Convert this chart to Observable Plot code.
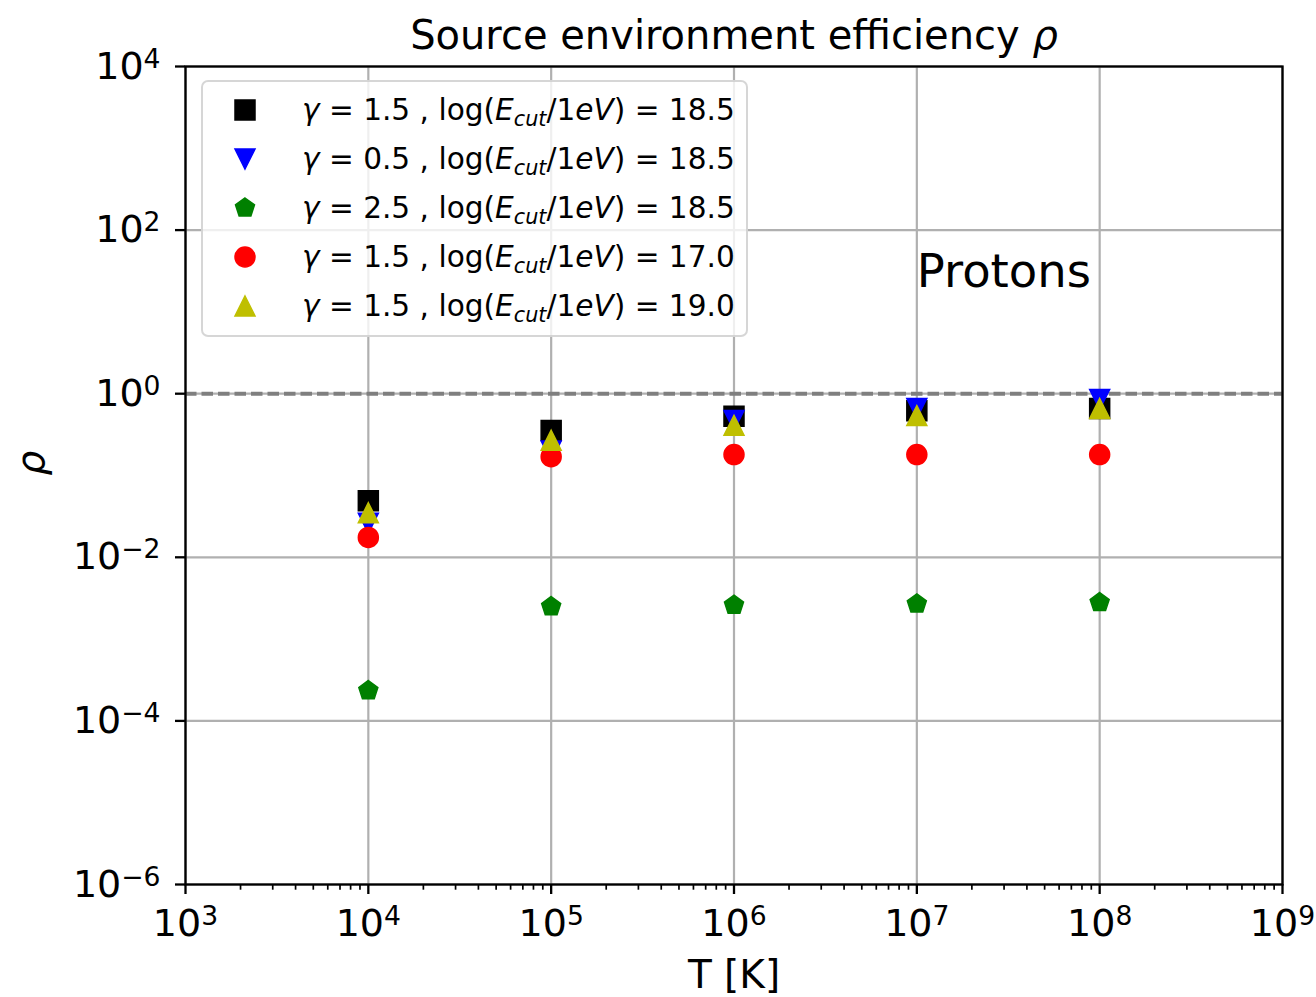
<!DOCTYPE html>
<html>
<head>
<meta charset="utf-8">
<script src="https://cdn.jsdelivr.net/npm/d3@7"></script>
<script src="https://cdn.jsdelivr.net/npm/@observablehq/plot@0.6"></script>
<style>
  body { margin: 0; background: #fff; font-family: "DejaVu Sans", sans-serif; }
  #wrap { position: relative; width: 1316px; height: 997px; }
  #legend {
    position: absolute; left: 201px; top: 80px; width: 547px; height: 257px;
    box-sizing: border-box; border: 2px solid rgba(204,204,204,0.8); border-radius: 7px;
    background: rgba(255,255,255,0.8);
  }
  .lrow { position: absolute; left: 0; height: 35px; line-height: 35px; font-size: 29.6px; color: #000; white-space: nowrap; }
  .lrow svg { position: absolute; left: 27px; top: 2.5px; overflow: visible; }
  .lrow span.txt { position: absolute; left: 99px; top: 0; }
  .lrow sub { font-size: 70%; vertical-align: -0.28em; line-height: 0; }
</style>
</head>
<body>
<div id="wrap"></div>
<script>
// Temperatures of the source environment (K)
const temperatures = [1e4, 1e5, 1e6, 1e7, 1e8];

// Efficiency rho for each spectral index / cutoff combination
const rhoG15E185 = [0.049, 0.355, 0.53, 0.62, 0.66];
const rhoG05E185 = [0.026, 0.2, 0.47, 0.66, 0.85];
const rhoG25E185 = [2.35e-4, 2.5e-3, 2.6e-3, 2.7e-3, 2.8e-3];
const rhoG15E170 = [0.0175, 0.17, 0.18, 0.18, 0.18];
const rhoG15E190 = [0.035, 0.27, 0.41, 0.54, 0.66];

const seriesGamma = ["1.5", "0.5", "2.5", "1.5", "1.5"];
const seriesLogEcut = ["18.5", "18.5", "18.5", "17.0", "19.0"];
const seriesColors = ["#000000", "#0000ff", "#008000", "#ff0000", "#bfbf00"];
const seriesMarkers = ["square", "triangleDown", "pentagon", "circle", "triangleUp"];

const xTickValues = [1e3, 1e4, 1e5, 1e6, 1e7, 1e8, 1e9];
const yTickValues = [1e-6, 1e-4, 1e-2, 1e0, 1e2, 1e4];
const referenceRho = [1];
const annotation = {T: 1e7, rho: 20, text: "Protons"};
const titleText = "Source environment efficiency ρ";
const xLabel = "T [K]";
const yLabel = "ρ";

const seriesValues = [rhoG15E185, rhoG05E185, rhoG25E185, rhoG15E170, rhoG15E190];

// Marker shapes; half-size R derived from the area Plot passes in (size = π r²)
const half = size => Math.sqrt(size / Math.PI);
const symbols = {
  square: {draw(c, size) { const r = half(size); c.rect(-r, -r, 2 * r, 2 * r); }},
  triangleUp: {draw(c, size) { const r = half(size); c.moveTo(0, -r); c.lineTo(r, r); c.lineTo(-r, r); c.closePath(); }},
  triangleDown: {draw(c, size) { const r = half(size); c.moveTo(0, r); c.lineTo(r, -r); c.lineTo(-r, -r); c.closePath(); }},
  pentagon: {draw(c, size) {
    const r = half(size);
    for (let k = 0; k < 5; ++k) {
      const a = -Math.PI / 2 + k * 2 * Math.PI / 5;
      const px = r * Math.cos(a), py = r * Math.sin(a);
      k ? c.lineTo(px, py) : c.moveTo(px, py);
    }
    c.closePath();
  }},
  circle: d3.symbolCircle
};

// Minor ticks at 2..9 × each decade on the temperature axis
const minorX = [];
for (let e = 3; e < 9; ++e) for (let m = 2; m <= 9; ++m) minorX.push(m * 10 ** e);

const powerLabel = d => "10^" + Math.round(Math.log10(d));

const markerR = 10;
const dotMarks = seriesValues.map((vals, s) =>
  Plot.dot(temperatures, {
    x: d => d,
    y: (d, j) => vals[j],
    symbol: seriesMarkers[s] === "circle" ? "circle" : symbols[seriesMarkers[s]],
    r: markerR,
    fill: seriesColors[s],
    stroke: seriesColors[s],
    strokeWidth: 1.5
  })
);

const chart = Plot.plot({
  width: 1316,
  height: 997,
  marginTop: 66,
  marginRight: 34,
  marginBottom: 113,
  marginLeft: 185,
  style: {fontFamily: "DejaVu Sans", color: "#000", background: "#fff"},
  x: {type: "log", domain: [1e3, 1e9], label: null},
  y: {type: "log", domain: [1e-6, 1e4], label: null},
  marks: [
    Plot.gridX(xTickValues, {stroke: "#b0b0b0", strokeOpacity: 1, strokeWidth: 2.2}),
    Plot.gridY(yTickValues, {stroke: "#b0b0b0", strokeOpacity: 1, strokeWidth: 2.2}),
    Plot.ruleY(referenceRho, {stroke: "#7f7f7f", strokeWidth: 4, strokeDasharray: "11.5,5"}),
    ...dotMarks,
    Plot.text([annotation], {x: "T", y: "rho", text: "text", textAnchor: "start", lineAnchor: "bottom", fontSize: 46.5, fill: "#000"}),
    Plot.frame({stroke: "#000", strokeWidth: 2.3}),
    Plot.axisX(minorX, {tickSize: 5.7, strokeWidth: 1.7, tickFormat: () => ""}),
    Plot.axisX(xTickValues, {tickSize: 10, tickPadding: 15, strokeWidth: 2.3, fontSize: 38, tickFormat: powerLabel}),
    Plot.axisY(yTickValues, {tickSize: 10, tickPadding: 15, strokeWidth: 2.3, fontSize: 38, tickFormat: powerLabel}),
    Plot.text([titleText], {frameAnchor: "top", dy: -18, lineAnchor: "bottom", fontSize: 40, fill: "#000"}),
    Plot.text([xLabel], {frameAnchor: "bottom", dy: 103, lineAnchor: "bottom", fontSize: 39, fill: "#000"}),
    Plot.text([yLabel], {frameAnchor: "left", dx: -154, rotate: -90, fontSize: 39, fontStyle: "italic", fill: "#000"})
  ]
});

// Superscripted powers of ten and the italic rho in the title
const svgNS = "http://www.w3.org/2000/svg";
function tspan(parent, text, attrs = {}) {
  const t = document.createElementNS(svgNS, "tspan");
  t.textContent = text;
  for (const k in attrs) t.setAttribute(k, attrs[k]);
  parent.appendChild(t);
}
chart.querySelectorAll("text").forEach(el => {
  const s = el.textContent;
  const m = /^10\^(-?\d+)$/.exec(s);
  if (m) {
    el.textContent = "";
    tspan(el, "10");
    tspan(el, m[1].replace("-", "−"), {"font-size": "70%", dy: "-0.42em"});
  } else if (s === titleText) {
    el.textContent = "";
    tspan(el, titleText.slice(0, -1));
    tspan(el, titleText.slice(-1), {"font-style": "italic"});
  }
});

const wrap = document.getElementById("wrap");
wrap.appendChild(chart);

// Legend box
const legend = document.createElement("div");
legend.id = "legend";
const rowCenter0 = 28, rowStep = 49;
seriesValues.forEach((_, s) => {
  const row = document.createElement("div");
  row.className = "lrow";
  row.style.top = (rowCenter0 + s * rowStep - 17.5) + "px";
  const sw = d3.create("svg").attr("width", 30).attr("height", 30);
  const sym = seriesMarkers[s] === "circle" ? d3.symbolCircle : symbols[seriesMarkers[s]];
  sw.append("path")
    .attr("transform", "translate(15,15)")
    .attr("d", d3.symbol(sym, Math.PI * markerR * markerR)())
    .attr("fill", seriesColors[s])
    .attr("stroke", seriesColors[s])
    .attr("stroke-width", 1.5);
  row.appendChild(sw.node());
  const txt = document.createElement("span");
  txt.className = "txt";
  txt.innerHTML = `<i>γ</i> = ${seriesGamma[s]} , log(<i>E</i><sub><i>cut</i></sub>/1<i>eV</i>) = ${seriesLogEcut[s]}`;
  row.appendChild(txt);
  legend.appendChild(row);
});
wrap.appendChild(legend);
</script>
</body>
</html>
